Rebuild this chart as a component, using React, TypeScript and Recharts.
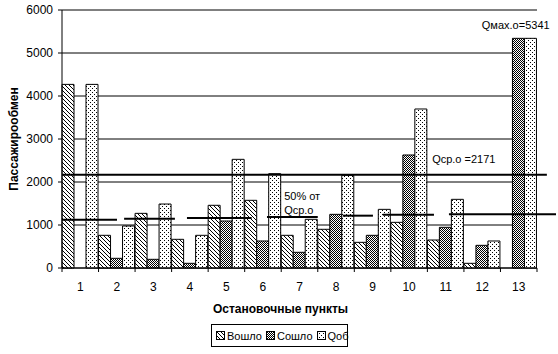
import React from 'react';
import {
  BarChart, Bar, XAxis, YAxis, CartesianGrid, ReferenceLine, ReferenceDot, Legend,
} from 'recharts';

const categories = ['1', '2', '3', '4', '5', '6', '7', '8', '9', '10', '11', '12', '13'];
const voshlo = [4270, 760, 1271, 667, 1458, 1574, 760, 900, 597, 1062, 651, 109, 0];
const soshlo = [0, 225, 202, 109, 1093, 628, 365, 1248, 760, 2628, 946, 527, 5341];
const qob = [4270, 977, 1488, 760, 2527, 2194, 1132, 2155, 1364, 3698, 1597, 628, 5341];
const yTicks = [0, 1000, 2000, 3000, 4000, 5000, 6000];
const boundaryTicks = [0, 1, 2, 3, 4, 5, 6, 7, 8, 9, 10, 11, 12, 13];

const qAvg = 2171;
const avgSpan = [0, 13.27];
// 50% of average: hand-drawn segments [x1, x2, y]
const halfSegments = [
  [0, 1.505, 1123],
  [1.7, 3.09, 1147],
  [3.42, 5.19, 1163],
  [5.61, 7.0, 1186],
  [7.69, 8.51, 1217],
  [8.78, 10.18, 1240],
  [10.59, 13.52, 1250],
];
const notes = [
  { text: 'Qмах.о=5341', x: 11.49, y: 5651 },
  { text: 'Qср.о =2171', x: 10.13, y: 2528 },
  { text: '50% от', x: 6.08, y: 1681 },
  { text: 'Qср.о', x: 6.08, y: 1349 },
];

const series = [
  { key: 'voshlo', name: 'Вошло', fill: 'url(#patHatch)' },
  { key: 'soshlo', name: 'Сошло', fill: 'url(#patChecker)' },
  { key: 'qob', name: 'Qоб', fill: 'url(#patDots)' },
];

const data = categories.map((name, i) => ({
  name,
  pos: i + 0.5,
  voshlo: voshlo[i],
  soshlo: soshlo[i],
  qob: qob[i],
}));

const FONT = '"Liberation Sans", Arial, sans-serif';

const Patterns = () => (
  <svg width={0} height={0} style={{ position: 'absolute' }}>
    <defs>
      <pattern id="patHatch" patternUnits="userSpaceOnUse" width={4} height={4}>
        <rect width={4} height={4} fill="#fff" />
        <path d="M-1,-1 L5,5 M3,-1 L5,1 M-1,3 L1,5" stroke="#000" strokeWidth={1} />
      </pattern>
      <pattern id="patChecker" patternUnits="userSpaceOnUse" width={2} height={2}>
        <rect width={2} height={2} fill="#fff" />
        <rect x={0} y={0} width={1} height={1} fill="#000" />
        <rect x={1} y={1} width={1} height={1} fill="#000" />
      </pattern>
      <pattern id="patDots" patternUnits="userSpaceOnUse" width={4} height={4}>
        <rect width={4} height={4} fill="#fff" />
        <rect x={0} y={0} width={1} height={1} fill="#000" />
        <rect x={2} y={2} width={1} height={1} fill="#000" />
      </pattern>
    </defs>
  </svg>
);

const LegendBox = () => (
  <div style={{ height: 38, width: 558, position: 'relative' }}>
    <div
      style={{
        position: 'absolute',
        left: 211,
        top: 8,
        width: 137,
        height: 23,
        boxSizing: 'border-box',
        border: '1px solid #000',
        display: 'flex',
        alignItems: 'center',
        paddingLeft: 4,
        fontFamily: FONT,
        fontSize: 11,
        color: '#000',
        background: '#fff',
        whiteSpace: 'nowrap',
      }}
    >
      {series.map((s) => (
        <span key={s.key} style={{ display: 'flex', alignItems: 'center', marginRight: 4 }}>
          <svg width={9} height={9} style={{ marginRight: 2 }}>
            <rect x={0.5} y={0.5} width={8} height={8} fill={s.fill} stroke="#000" />
          </svg>
          {s.name}
        </span>
      ))}
    </div>
  </div>
);

export default function App() {
  return (
    <div style={{ position: 'absolute', left: 0, top: 0, width: 558, height: 354, background: '#fff' }}>
      <Patterns />
      <BarChart
        width={558}
        height={354}
        data={data}
        margin={{ top: 10, right: 21, left: 0, bottom: 0 }}
        barCategoryGap={0}
        barGap={0}
      >
        <CartesianGrid horizontal vertical={false} stroke="#000" strokeWidth={1} xAxisId="cat" />
        <XAxis
          dataKey="pos"
          type="number"
          scale="linear"
          domain={[0, 13]}
          ticks={boundaryTicks}
          interval={0}
          tickFormatter={() => ''}
          tickSize={4}
          tickLine={{ stroke: '#000' }}
          axisLine={{ stroke: '#000' }}
          height={1}
          allowDataOverflow
        />
        <XAxis
          xAxisId="cat"
          dataKey="name"
          tickLine={false}
          tickSize={0}
          tickMargin={13}
          axisLine={false}
          tick={{ fontSize: 12, fill: '#000', fontFamily: FONT }}
          height={47}
          interval={0}
          label={{
            value: 'Остановочные пункты',
            position: 'insideBottom',
            offset: 3,
            dx: -19,
            style: { fontSize: 12, fontWeight: 'bold', fill: '#000', fontFamily: FONT },
          }}
        />
        <YAxis
          width={62}
          domain={[0, 6000]}
          ticks={yTicks}
          interval={0}
          tickSize={4}
          tickMargin={5}
          tickLine={{ stroke: '#000' }}
          axisLine={{ stroke: '#000' }}
          tick={{ fontSize: 12, fill: '#000', fontFamily: FONT }}
          label={{
            value: 'Пассажирообмен',
            angle: -90,
            position: 'center',
            dx: -17,
            style: { fontSize: 12, fontWeight: 'bold', fill: '#000', fontFamily: FONT, textAnchor: 'middle' },
          }}
        />
        {series.map((s) => (
          <Bar
            key={s.key}
            xAxisId="cat"
            dataKey={s.key}
            name={s.name}
            fill={s.fill}
            stroke="#000"
            strokeWidth={1}
            isAnimationActive={false}
          />
        ))}
        <ReferenceLine
          segment={[{ x: avgSpan[0], y: qAvg }, { x: avgSpan[1], y: qAvg }]}
          stroke="#000"
          strokeWidth={2}
          ifOverflow="visible"
        />
        {halfSegments.map((seg, i) => (
          <ReferenceLine
            key={i}
            segment={[{ x: seg[0], y: seg[2] }, { x: seg[1], y: seg[2] }]}
            stroke="#000"
            strokeWidth={2}
            ifOverflow="visible"
          />
        ))}
        {notes.map((n, i) => (
          <ReferenceDot
            key={i}
            x={n.x}
            y={n.y}
            r={0}
            fill="none"
            stroke="none"
            ifOverflow="visible"
            label={{
              value: n.text,
              position: 'right',
              offset: 0,
              style: { fontSize: 11, fill: '#000', fontFamily: FONT },
            }}
          />
        ))}
        <Legend verticalAlign="bottom" wrapperStyle={{ left: 0, bottom: 0, width: 558 }} content={() => <LegendBox />} />
      </BarChart>
    </div>
  );
}
